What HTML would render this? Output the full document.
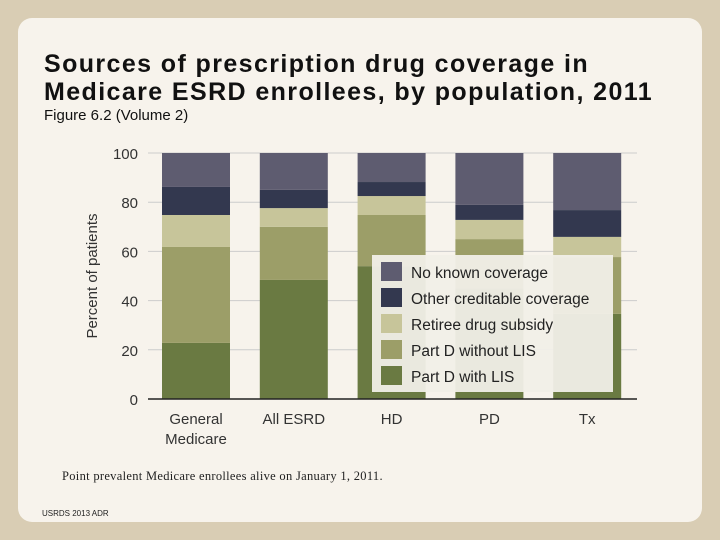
<!DOCTYPE html>
<html><head><meta charset="utf-8"><style>
body{margin:0;width:720px;height:540px;background:#d9cdb4;font-family:"Liberation Sans",sans-serif;overflow:hidden;position:relative}
.panel{position:absolute;left:18px;top:18px;width:684px;height:504px;background:#f7f3ec;border-radius:14px}
.t{position:absolute;left:44px;top:50px;font-size:25px;font-weight:bold;color:#111;line-height:28px;letter-spacing:1.4px}
.s{position:absolute;left:44px;top:107px;font-size:15px;color:#111}
.n{position:absolute;left:62px;top:469px;font-size:12.5px;font-family:"Liberation Serif",serif;color:#222;letter-spacing:0.3px}
.f{position:absolute;left:42px;top:509px;font-size:8px;color:#222}
</style></head><body>
<div class="panel"></div>
<div class="t">Sources of prescription drug coverage in<br>Medicare ESRD enrollees, by population, 2011</div>
<div class="s">Figure 6.2 (Volume 2)</div>
<svg id="c" width="720" height="540" style="position:absolute;left:0;top:0"></svg>
<div class="n">Point prevalent Medicare enrollees alive on January 1, 2011.</div>
<div class="f">USRDS 2013 ADR</div>
<script>
const categories=[["General","Medicare"],["All ESRD"],["HD"],["PD"],["Tx"]];
const seriesNames=["Part D with LIS","Part D without LIS","Retiree drug subsidy","Other creditable coverage","No known coverage"];
const lis=[22.8,48.4,54,45,34.6];
const noLis=[39,21.6,20.8,20,23.1];
const retiree=[13,7.6,7.7,7.8,8.2];
const other=[11.4,7.4,5.7,6.1,10.9];
const none=[13.8,15,11.8,21.1,23.2];
const yTicks=[0,20,40,60,80,100];
const colors=["#6a7a42","#9c9e68","#c7c59a","#33384f","#5e5c70"];
const series=[lis,noLis,retiree,other,none];
const NS="http://www.w3.org/2000/svg",svg=document.getElementById("c");
const y=v=>399-v*2.46, x=i=>162+i*97.8, bw=68;
function el(t,a){const e=document.createElementNS(NS,t);for(const k in a)e.setAttribute(k,a[k]);svg.appendChild(e);return e;}
yTicks.forEach(v=>{
 if(v>0){const g=el("line",{x1:148,x2:637,y1:y(v),y2:y(v),stroke:"#ccc","stroke-width":1});
 
 }
 const t=el("text",{x:138,y:y(v)+6,"text-anchor":"end","font-size":15,fill:"#333"});t.textContent=v;
 
 
});
categories.forEach((c,i)=>{
 let acc=0;
 series.forEach((s,k)=>{
  const r=el("rect",{x:x(i),y:y(acc+s[i]),width:bw,height:s[i]*2.46,fill:colors[k]});
  
  
  acc+=s[i];
 });
 c.forEach((ln,j)=>{const t=el("text",{x:x(i)+bw/2,y:424+j*20,"text-anchor":"middle","font-size":15,fill:"#333"});t.textContent=ln;
 
 });
});
const ax=el("line",{x1:148,x2:637,y1:399,y2:399,stroke:"#222","stroke-width":1.5});


const yt=el("text",{x:97,y:276,"text-anchor":"middle","font-size":15,fill:"#333",transform:"rotate(-90 97 276)"});yt.textContent="Percent of patients";


const lb=el("rect",{x:372,y:255,width:241,height:137,fill:"#f1efe8",opacity:0.95});


[4,3,2,1,0].forEach((k,j)=>{
 const sw=el("rect",{x:381,y:262+j*26,width:21,height:19,fill:colors[k]});
 
 
 const t=el("text",{x:411,y:278+j*26,"font-size":15.5,fill:"#222"});t.textContent=seriesNames[k];
 
 
});
</script>
</body></html>
